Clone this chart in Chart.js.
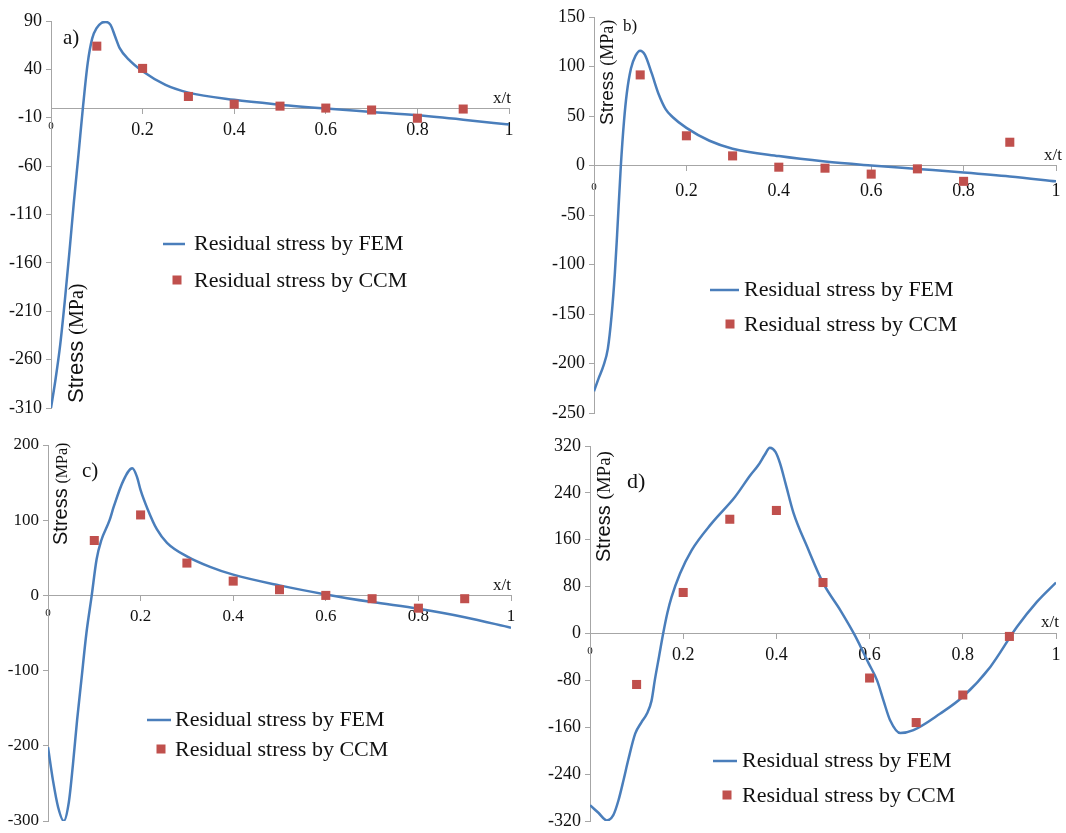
<!DOCTYPE html>
<html>
<head>
<meta charset="utf-8">
<script src="https://cdn.jsdelivr.net/npm/chart.js@4.4.0/dist/chart.umd.min.js"></script>
<style>
  html, body { margin: 0; padding: 0; background: #fff; }
  body { width: 1066px; height: 833px; position: relative; overflow: hidden; }
  canvas { position: absolute; }
</style>
</head>
<body>
<canvas id="chartA" width="533" height="430" style="left:0;top:0"></canvas>
<canvas id="chartB" width="533" height="430" style="left:533px;top:0"></canvas>
<canvas id="chartC" width="533" height="418" style="left:0;top:415px"></canvas>
<canvas id="chartD" width="533" height="418" style="left:533px;top:415px"></canvas>
<script>
// x/t positions of the CCM points (same for all four panels)
const ccmX = [0.1, 0.2, 0.3, 0.4, 0.5, 0.6, 0.7, 0.8, 0.9];
const xTicks = [0, 0.2, 0.4, 0.6, 0.8, 1];
const xTickLabels = ["0", "0.2", "0.4", "0.6", "0.8", "1"];

// a)
const femXA = [0, 0.01, 0.02, 0.03, 0.04, 0.05, 0.06, 0.07, 0.08, 0.09, 0.1, 0.11, 0.12, 0.13, 0.14, 0.15, 0.17, 0.2, 0.25, 0.3, 0.4, 0.5, 0.6, 0.7, 0.8, 0.9, 1];
const femA = [-310, -280, -245, -200, -150, -97, -48, 2, 46, 72, 83, 88, 89, 86, 74, 62, 50, 38, 24, 16, 8.5, 3.5, -0.5, -4, -7.5, -12, -17];
const ccmA = [64, 41, 12, 4, 2, 0, -2, -10.5, -1];
const yTicksA = [-310, -260, -210, -160, -110, -60, -10, 40, 90];

// b)
const femXB = [0, 0.01, 0.02, 0.03, 0.038, 0.045, 0.05, 0.058, 0.065, 0.071, 0.08, 0.09, 0.1, 0.11, 0.125, 0.14, 0.155, 0.17, 0.2, 0.25, 0.3, 0.4, 0.5, 0.6, 0.7, 0.8, 0.9, 1];
const femB = [-228, -215, -203, -185, -152, -110, -70, -1, 45, 73, 98, 111, 116, 112, 93, 72, 57, 49, 38, 25, 17, 9.5, 4, 0, -3.5, -7, -11, -16];
const ccmB = [91.5, 30, 9.7, -1.7, -2.7, -8.7, -3.4, -16, 23.5];
const yTicksB = [-250, -200, -150, -100, -50, 0, 50, 100, 150];

// c)
const femXC = [0, 0.011, 0.022, 0.034, 0.045, 0.054, 0.063, 0.072, 0.083, 0.094, 0.105, 0.115, 0.133, 0.142, 0.163, 0.182, 0.192, 0.2, 0.215, 0.235, 0.257, 0.3, 0.35, 0.4, 0.5, 0.6, 0.7, 0.8, 0.9, 1];
const femC = [-202, -247, -282, -300, -275, -224, -165, -113, -50, -2, 48, 73, 100, 118, 153, 169, 158, 140, 115, 88, 70, 52, 38, 27.6, 13.3, 1.3, -8.9, -17.8, -29, -43];
const ccmC = [73, 107, 43, 19, 7.6, 0, -4.4, -17, -4.4];
const yTicksC = [-300, -200, -100, 0, 100, 200];

// d)
const femXD = [0, 0.018, 0.036, 0.05, 0.061, 0.072, 0.082, 0.097, 0.11, 0.122, 0.132, 0.139, 0.148, 0.157, 0.166, 0.175, 0.193, 0.218, 0.261, 0.311, 0.344, 0.361, 0.375, 0.386, 0.398, 0.408, 0.42, 0.437, 0.466, 0.501, 0.537, 0.569, 0.598, 0.616, 0.63, 0.644, 0.666, 0.694, 0.751, 0.8, 0.859, 0.916, 0.959, 1];
const femD = [-293, -306, -319, -310, -285, -250, -216, -171, -152, -137, -115, -80, -40, 0, 35, 62, 102, 142, 188, 233, 270, 287, 305, 317, 310, 290, 255, 205, 148, 85, 40, -4, -51, -80, -115, -148, -170, -165, -137, -108, -57, 11, 54, 87];
const ccmD = [-87, 70, 195, 210, 87, -76, -152, -105, -5];
const yTicksD = [-320, -240, -160, -80, 0, 80, 160, 240, 320];

const SERIF = '"Liberation Serif", "Times New Roman", serif';
const SANS = '"Liberation Sans", Arial, sans-serif';
const BLUE = "#4a7ebb";
const RED = "#c0504d";
const AXIS = "#a6a6a6";

// panel letter, x/t, rotated y title and the inside legend
const panelDecor = {
  id: "panelDecor",
  afterDraw(chart, args, o) {
    const ctx = chart.ctx;
    const sets = chart.data.datasets;
    ctx.save();
    ctx.fillStyle = "#111";
    ctx.textBaseline = "alphabetic";
    ctx.textAlign = "left";
    ctx.font = o.tag[3] + "px " + SERIF;
    ctx.fillText(o.tag[0], o.tag[1], o.tag[2]);

    ctx.textAlign = "right";
    ctx.font = o.xt[2] + "px " + SERIF;
    ctx.fillText("x/t", o.xt[0], o.xt[1]);

    ctx.save();
    ctx.translate(o.title[0], o.title[1]);
    ctx.rotate(-Math.PI / 2);
    ctx.textAlign = "left";
    ctx.font = o.title[2] + "px " + SANS;
    ctx.fillText("Stress", 0, 0);
    const w = ctx.measureText("Stress").width + o.title[3] * 0.3;
    ctx.font = o.title[3] + "px " + SERIF;
    ctx.fillText("(MPa)", w, 0);
    ctx.restore();

    const L = o.legend;
    ctx.strokeStyle = sets[0].borderColor;
    ctx.lineWidth = 2.5;
    ctx.beginPath();
    ctx.moveTo(L.x0, L.y0);
    ctx.lineTo(L.x1, L.y0);
    ctx.stroke();
    ctx.fillStyle = sets[1].backgroundColor;
    ctx.fillRect(L.mx - 4.5, L.y1 - 4.5, 9, 9);
    ctx.fillStyle = "#111";
    ctx.textAlign = "left";
    ctx.textBaseline = "middle";
    ctx.font = "22px " + SERIF;
    ctx.fillText(sets[0].label, L.tx, L.y0);
    ctx.fillText(sets[1].label, L.tx, L.y1 + 1);
    ctx.restore();
  },
};

function makeChart(id, femX, fem, ccm, yTicks, look) {
  const ctx = document.getElementById(id).getContext("2d");
  return new Chart(ctx, {
    type: "scatter",
    data: {
      datasets: [
        {
          label: "Residual stress by FEM",
          data: femX.map((x, i) => ({ x: x, y: fem[i] })),
          showLine: true,
          borderColor: BLUE,
          backgroundColor: BLUE,
          borderWidth: 2.5,
          pointRadius: 0,
          cubicInterpolationMode: "monotone",
          order: 2,
        },
        {
          label: "Residual stress by CCM",
          data: ccmX.map((x, i) => ({ x: x, y: ccm[i] })),
          showLine: false,
          pointStyle: "rect",
          pointRadius: 6.4,
          backgroundColor: RED,
          borderColor: RED,
          borderWidth: 0,
          order: 1,
        },
      ],
    },
    options: {
      responsive: false,
      animation: false,
      layout: { padding: { left: 0, top: look.pad[0], right: look.pad[1], bottom: look.pad[2] } },
      scales: {
        x: {
          type: "linear",
          min: 0,
          max: 1,
          position: { y: 0 },
          afterBuildTicks: (s) => {
            s.ticks = xTicks.map((v) => ({ value: v }));
          },
          afterFit: (s) => {
            s.height = 0;
            s.paddingLeft = 0;
            s.paddingRight = 0;
          },
          border: { display: true, color: AXIS, width: 1 },
          grid: { drawOnChartArea: false, drawTicks: true, tickLength: 5, color: AXIS },
          ticks: {
            maxRotation: 0,
            minRotation: 0,
            autoSkip: false,
            padding: look.xPad,
            color: "#111",
            font: (c) => ({ family: SERIF, size: c.index === 0 ? 11 : look.tickSize }),
            callback: (v, i) => xTickLabels[i],
          },
        },
        y: {
          type: "linear",
          min: yTicks[0],
          max: yTicks[yTicks.length - 1],
          afterBuildTicks: (s) => {
            s.ticks = yTicks.map((v) => ({ value: v }));
          },
          afterFit: (s) => {
            s.width = look.yWidth;
            s.paddingTop = 0;
            s.paddingBottom = 0;
          },
          border: { display: true, color: AXIS, width: 1 },
          grid: { drawOnChartArea: false, drawTicks: true, tickLength: 5, color: AXIS },
          ticks: {
            padding: 4,
            autoSkip: false,
            color: "#111",
            font: { family: SERIF, size: look.tickSize },
            callback: (v) => String(v),
          },
        },
      },
      plugins: {
        legend: { display: false },
        tooltip: { enabled: false },
        panelDecor: look.decor,
      },
    },
    plugins: [panelDecor],
  });
}

makeChart("chartA", femXA, femA, ccmA, yTicksA, {
  pad: [21, 24, 22], yWidth: 51, tickSize: 18, xPad: 6,
  decor: {
    tag: ["a)", 63, 44, 21],
    xt: [511, 103, 17],
    title: [83, 403, 22, 20],
    legend: { x0: 163, x1: 185, y0: 244, y1: 280, mx: 177, tx: 194 },
  },
});

makeChart("chartB", femXB, femB, ccmB, yTicksB, {
  pad: [17, 10, 17], yWidth: 61, tickSize: 18, xPad: 10,
  decor: {
    tag: ["b)", 90, 31, 17],
    xt: [529, 160, 17],
    title: [80, 125, 19, 18],
    legend: { x0: 177, x1: 206, y0: 290, y1: 324, mx: 197, tx: 211 },
  },
});

makeChart("chartC", femXC, femC, ccmC, yTicksC, {
  pad: [30, 22, 12], yWidth: 48, tickSize: 17, xPad: 6,
  decor: {
    tag: ["c)", 82, 62, 21],
    xt: [511, 175, 17],
    title: [67, 130, 20, 16],
    legend: { x0: 147, x1: 171, y0: 305, y1: 334, mx: 161, tx: 175 },
  },
});

makeChart("chartD", femXD, femD, ccmD, yTicksD, {
  pad: [31, 10, 12], yWidth: 57, tickSize: 18, xPad: 6,
  decor: {
    tag: ["d)", 94, 73, 22],
    xt: [526, 212, 17],
    title: [77, 147, 20, 19],
    legend: { x0: 180, x1: 204, y0: 346, y1: 380, mx: 194, tx: 209 },
  },
});
</script>
</body>
</html>
